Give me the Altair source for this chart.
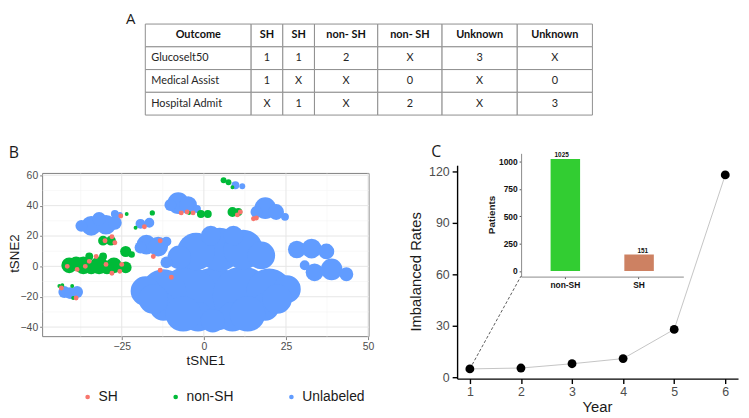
import altair as alt
import pandas as pd

# ======================= DATA =======================
# Panel A: outcome table
table_header = ["Outcome", "SH", "SH", "non- SH", "non- SH", "Unknown", "Unknown"]
table_outcomes = ["Glucoselt50", "Medical Assist", "Hospital Admit"]
table_glucose = ["1", "1", "2", "X", "3", "X"]
table_medical = ["1", "X", "X", "0", "X", "0"]
table_hospital = ["X", "1", "X", "2", "X", "3"]

# Panel B: tSNE embedding, clusters approximated as (tSNE1, tSNE2, spread in tSNE1 units)
unl_x = [3.3, -4.8, 11.7, -12.3, 19.9, -17.8, 25.3, -12.3, 18.7, -1.8, 8.7,
         -15.4, 22.3, -6.3, 13.3, 2.7,
         4.8, -2.4, 12.0, 17.5, -7.5, -11.4, 2.1, 9.0,
         -17.5, -13.9, -19.3, -11.4,
         -34.3, -29.8, -31.9, -37.3, -27.1,
         -27.1, -25.6,
         -19.3, -16.6,
         -42.5, -38.6, -40.7,
         -7.8, -4.8, -10.2, -2.1,
         18.7, 22.0, 24.7, 16.0,
         28.3, 32.8, 37.3,
         33.7, 38.9, 43.4, 30.7,
         9.6, 11.7]
unl_y = [-21.5, -19.5, -19.5, -16.9, -16.3, -16.3, -15.0, -26.7, -26.7, -33.2, -33.2,
         -21.5, -21.5, -31.3, -31.3, -35.8,
         11.1, 9.8, 11.1, 7.2, 5.9, 2.6, 20.2, 20.2,
         14.3, 13.0, 12.4, 16.3,
         26.7, 27.4, 31.3, 26.7, 28.7,
         34.5, 33.9,
         28.0, 28.7,
         -16.9, -16.9, -17.6,
         41.7, 40.4, 40.4, 37.8,
         38.4, 35.8, 32.6, 35.8,
         11.1, 11.7, 9.8,
         -3.9, -2.0, -5.2, 0.7,
         53.4, 52.8]
unl_r = [9.6, 9.0, 9.0, 6.9, 6.9, 4.5, 4.2, 4.2, 4.2, 4.5, 4.5,
         4.5, 4.5, 5.4, 5.4, 3.6,
         6.6, 5.7, 6.0, 4.2, 3.6, 1.8, 3.0, 3.0,
         3.0, 3.0, 1.8, 1.5,
         3.0, 3.0, 2.1, 1.8, 2.1,
         1.2, 0.9,
         1.5, 1.5,
         1.8, 1.8, 1.8,
         3.3, 2.7, 1.8, 1.2,
         3.3, 2.4, 1.2, 1.8,
         2.7, 3.0, 2.4,
         2.7, 3.3, 2.1, 1.5,
         1.2, 0.9]

non_x = [-30.7, -28.3, -41.0, -36.7, -31.9, -27.4, -23.8, -34.9, -30.7, -23.8, -22.0,
         -38.9, -34.3, -29.5,
         -0.9, 1.2, 8.7, 10.5, 6.0, 7.5,
         -44.0, -43.1, -40.1, -39.8, -20.8, -23.5, -15.7, 8.7, -4.5]
non_y = [16.9, 16.9, 0.7, 0.7, 0.7, 0.7, -0.7, 6.5, 6.5, 9.8, 7.8,
         2.0, -0.7, -0.7,
         34.5, 34.5, 35.8, 35.8, 56.7, 55.4,
         -13.0, -12.4, -13.0, -20.8, 25.4, 34.5, 35.2, 52.1, 35.2]
non_r = [1.5, 1.5, 2.4, 2.7, 2.7, 2.4, 1.8, 1.2, 1.2, 1.7, 1.0,
         2.1, 2.1, 2.1,
         1.2, 1.2, 1.5, 1.2, 0.9, 0.9,
         0.6, 0.6, 0.6, 0.6, 0.6, 0.6, 0.8, 0.6, 0.6]

sh_x = [-41.6, -36.1, -38.6, -32.8, -25.6, -25.0, -28.0, -29.8, -34.9, -30.1, -28.0,
        -27.1, -25.3, -18.1, -13.3, -15.4, -13.3, -9.9, -6.9, -5.1, -3.3, 11.1, 10.2,
        15.1, 16.0, -38.9, -43.4]
sh_y = [0.0, 0.0, -2.0, 6.5, -3.3, 1.3, -4.6, 1.3, 3.3, 16.9, 19.5,
        15.6, 33.2, 26.1, 16.9, 6.5, -2.6, -7.2, 35.2, 35.8, 35.2, 35.8, 33.9,
        31.3, 31.9, -20.8, -14.3]
sh_spread = 0.75

label_order = ["SH", "non-SH", "Unlabeled"]

# Panel C
years = [1, 2, 3, 4, 5, 6]
imbalanced_rates = [5.0, 5.5, 8.0, 11.0, 28.0, 118.0]
link_years = [1, 2]
link_rates = [5.0, 59.0]
patient_groups = ["non-SH", "SH"]
patient_counts = [1025, 151]

# ======================= LAYOUT =======================
W, H = 741, 410
FONT = "Liberation Sans"
TFONT = "Lato"

TBL_COL_W = [107, 32, 32, 64, 65, 76, 76]
TBL_XR = [138.8, 590.8]
TBL_YR = [14, 106]

B_XD, B_YD = [-49.1, 50.3], [-46.3, 61.2]
B_XR, B_YR = [35, 365], [330, 165]
C_XD, C_YD = [0.75, 6.25], [-0.65, 123.65]
C_XR, C_YR = [454, 738], [372.4, 156.7]
I_XR = [518.7, 682.7]
I_YD, I_YR = [-51.25, 1076.25], [269.3, 144.7]

RED, GREEN, BLUE = "#F8766D", "#00BA38", "#619CFF"


def lin(domain, rng):
    return alt.Scale(domain=domain, range=rng, nice=False, zero=False)


def note(text, x, y, size, angle=0, weight="normal", font=FONT, color="#1a1a1a"):
    return alt.Chart(pd.DataFrame({"t": [text]})).mark_text(
        fontSize=size, angle=angle, fontWeight=weight, font=font, color=color,
        align="center", baseline="middle"
    ).encode(x=alt.value(x), y=alt.value(y), text="t:N")


layers = []

# ---------------- Panel A: table ----------------
edges = [0]
for w in TBL_COL_W:
    edges.append(edges[-1] + w)
row_keys = ["hdr"] + table_outcomes
row_vals = [table_header] + [[o] + v for o, v in zip(table_outcomes, [table_glucose, table_medical, table_hospital])]
cells = []
for r, (key, vals) in enumerate(zip(row_keys, row_vals)):
    for c, v in enumerate(vals):
        kind = "header" if r == 0 else ("label" if c == 0 else "value")
        cells.append(dict(row=key, x0=edges[c], x1=edges[c + 1],
                          xc=(edges[c] + edges[c + 1]) / 2, text=v, kind=kind))
tdf = pd.DataFrame(cells)
tx = lin([0, edges[-1]], TBL_XR)
ty = alt.Scale(domain=row_keys, range=TBL_YR, paddingInner=0, paddingOuter=0)

layers.append(alt.Chart(tdf).mark_rect(fill="white", stroke="#8f8f8f", strokeWidth=1).encode(
    x=alt.X("x0:Q", scale=tx, axis=None), x2="x1:Q",
    y=alt.Y("row:N", scale=ty, axis=None)))
layers.append(alt.Chart(tdf).transform_filter("datum.kind == 'header'").mark_text(
    font=TFONT, fontSize=11, fontWeight="bold", color="#111111", baseline="middle").encode(
    x=alt.X("xc:Q", scale=tx, axis=None), y=alt.Y("row:N", scale=ty, axis=None), text="text:N"))
layers.append(alt.Chart(tdf).transform_filter("datum.kind == 'label'").mark_text(
    font=TFONT, fontSize=11, color="#262626", align="left", dx=6, baseline="middle").encode(
    x=alt.X("x0:Q", scale=tx, axis=None), y=alt.Y("row:N", scale=ty, axis=None), text="text:N"))
layers.append(alt.Chart(tdf).transform_filter("datum.kind == 'value'").mark_text(
    font=TFONT, fontSize=11, color="#262626", baseline="middle").encode(
    x=alt.X("xc:Q", scale=tx, axis=None), y=alt.Y("row:N", scale=ty, axis=None), text="text:N"))

# ---------------- Panel B: tSNE ----------------
bx, by = lin(B_XD, B_XR), lin(B_YD, B_YR)
frame = pd.DataFrame({"x0": [B_XD[0]], "x1": [B_XD[1]], "y0": [B_YD[0]], "y1": [B_YD[1]]})
layers.append(alt.Chart(frame).mark_rect(fill="white", stroke="#7f7f7f", strokeWidth=1).encode(
    x=alt.X("x0:Q", scale=bx, axis=alt.Axis(
        orient="bottom", offset=B_YR[0] - H, values=[-25, 0, 25, 50], title=None, grid=False,
        domain=False, tickColor="#7f7f7f", tickSize=3, labelColor="#4d4d4d", labelFont=FONT,
        labelFontSize=10.5, labelPadding=2, labelFlush=False)),
    x2="x1:Q",
    y=alt.Y("y0:Q", scale=by, axis=alt.Axis(
        orient="left", offset=-B_XR[0], values=[-40, -20, 0, 20, 40, 60], title=None, grid=False,
        domain=False, tickColor="#7f7f7f", tickSize=3, labelColor="#4d4d4d", labelFont=FONT,
        labelFontSize=10.5, labelPadding=2, labelFlush=False)),
    y2="y1:Q"))


def vgrid(vals, color, width):
    d = pd.DataFrame({"x": vals, "y0": B_YD[0], "y1": B_YD[1]})
    return alt.Chart(d).mark_rule(color=color, strokeWidth=width).encode(
        x=alt.X("x:Q", scale=bx, axis=None), y=alt.Y("y0:Q", scale=by, axis=None), y2="y1:Q")


def hgrid(vals, color, width):
    d = pd.DataFrame({"y": vals, "x0": B_XD[0], "x1": B_XD[1]})
    return alt.Chart(d).mark_rule(color=color, strokeWidth=width).encode(
        y=alt.Y("y:Q", scale=by, axis=None), x=alt.X("x0:Q", scale=bx, axis=None), x2="x1:Q")


layers += [vgrid([-37.5, -12.5, 12.5, 37.5], "#f3f3f3", 0.6),
           hgrid([-30, -10, 10, 30, 50], "#f3f3f3", 0.6),
           vgrid([-25, 0, 25, 50], "#e6e6e6", 1),
           hgrid([-40, -20, 0, 20, 40, 60], "#e6e6e6", 1)]

ppx = (B_XR[1] - B_XR[0]) / (B_XD[1] - B_XD[0])
pts = pd.concat([
    pd.DataFrame({"label": "Unlabeled", "x": unl_x, "y": unl_y, "r": unl_r}),
    pd.DataFrame({"label": "non-SH", "x": non_x, "y": non_y, "r": non_r}),
    pd.DataFrame({"label": "SH", "x": sh_x, "y": sh_y, "r": sh_spread}),
], ignore_index=True)
pts["px"] = (2 * pts["r"] * ppx) ** 2
layers.append(alt.Chart(pts).mark_circle(opacity=1, strokeWidth=0).encode(
    x=alt.X("x:Q", scale=bx, axis=None),
    y=alt.Y("y:Q", scale=by, axis=None),
    size=alt.Size("px:Q", scale=None, legend=None),
    color=alt.Color("label:N", scale=alt.Scale(domain=label_order, range=[RED, GREEN, BLUE]),
                    legend=alt.Legend(orient="none", legendX=73.5, legendY=384, direction="horizontal",
                                      title=None, labelFont=FONT, labelFontSize=14, labelColor="#1a1a1a",
                                      symbolType="circle", symbolSize=22, symbolStrokeWidth=0,
                                      columnPadding=51, labelOffset=4, padding=0, symbolOpacity=1))))

# ---------------- Panel C: imbalance rates ----------------
cx, cy = lin(C_XD, C_XR), lin(C_YD, C_YR)
cdf = pd.DataFrame({"year": years, "rate": imbalanced_rates})
ldf = pd.DataFrame({"year": link_years, "rate": link_rates})
layers.append(alt.Chart(cdf).mark_line(color="#c4c4c4", strokeWidth=1).encode(
    x=alt.X("year:Q", scale=cx, axis=None), y=alt.Y("rate:Q", scale=cy, axis=None)))
layers.append(alt.Chart(ldf).mark_line(color="#333333", strokeWidth=0.8, strokeDash=[3, 2]).encode(
    x=alt.X("year:Q", scale=cx, axis=None), y=alt.Y("rate:Q", scale=cy, axis=None)))
layers.append(alt.Chart(cdf).mark_circle(color="black", opacity=1, size=80).encode(
    x=alt.X("year:Q", scale=cx, axis=alt.Axis(
        orient="bottom", offset=C_YR[0] - H, values=years, title=None, grid=False,
        domainColor="black", domainWidth=1.4, tickColor="black", tickWidth=1.4, tickSize=5,
        labelColor="#4d4d4d", labelFont=FONT, labelFontSize=12.5, labelPadding=2, labelFlush=False)),
    y=alt.Y("rate:Q", scale=cy, axis=alt.Axis(
        orient="left", offset=-C_XR[0], values=[0, 30, 60, 90, 120], title=None, grid=False,
        domainColor="black", domainWidth=1.4, tickColor="black", tickWidth=1.4, tickSize=5,
        labelColor="#4d4d4d", labelFont=FONT, labelFontSize=12.5, labelPadding=3, labelFlush=False))))

# inset bar chart
ix = alt.Scale(domain=patient_groups, range=I_XR, paddingInner=0.6, paddingOuter=0.4)
iy = lin(I_YD, I_YR)
idf = pd.DataFrame({"group": patient_groups, "count": patient_counts, "base": 0})
layers.append(alt.Chart(idf).mark_bar().encode(
    x=alt.X("group:N", scale=ix, axis=alt.Axis(
        orient="bottom", offset=I_YR[0] - H, title=None, grid=False, labelAngle=0,
        domainColor="#8a8a8a", domainWidth=1, tickColor="#555555", tickSize=2,
        labelColor="#111111", labelFont=FONT, labelFontSize=8.5, labelFontWeight="bold", labelPadding=2)),
    y=alt.Y("count:Q", scale=iy, axis=alt.Axis(
        orient="left", offset=-I_XR[0], values=[0, 250, 500, 750, 1000], format="d", title=None,
        grid=False, domainColor="#8a8a8a", domainWidth=1, tickColor="#555555", tickSize=2,
        labelColor="#111111", labelFont=FONT, labelFontSize=8.5, labelFontWeight="bold", labelPadding=2,
        labelFlush=False)),
    y2="base:Q",
    color=alt.Color("group:N", scale=alt.Scale(domain=patient_groups, range=["#32CD32", "#CD8162"]),
                    legend=None)))
layers.append(alt.Chart(idf).mark_text(font=FONT, fontSize=6.5, fontWeight="bold", color="#111111",
                                       baseline="bottom", dy=-1).encode(
    x=alt.X("group:N", scale=ix, axis=None), y=alt.Y("count:Q", scale=iy, axis=None), text="count:Q"))

# ---------------- annotations ----------------
layers += [
    note("A", 124, 9, 15, font="Open Sans"),
    note("B", 6, 144, 16, font="Open Sans"),
    note("C", 433, 143, 16, font="Open Sans"),
    note("tSNE1", 200, 355, 13.5),
    note("tSNE2", 7, 246, 13.5, angle=270),
    note("Imbalanced Rates", 413, 264.5, 15, angle=270),
    note("Year", 596, 401, 15),
    note("Patients", 489, 207, 10, angle=270, weight="bold"),
]

chart = alt.layer(*layers).resolve_scale(
    x="independent", y="independent", color="independent"
).properties(
    width=W, height=H, autosize=alt.AutoSizeParams(type="none"), padding=0, background="white"
).configure_view(stroke=None)

chart.save("out.html", embed_options={"renderer": "svg", "actions": False})
